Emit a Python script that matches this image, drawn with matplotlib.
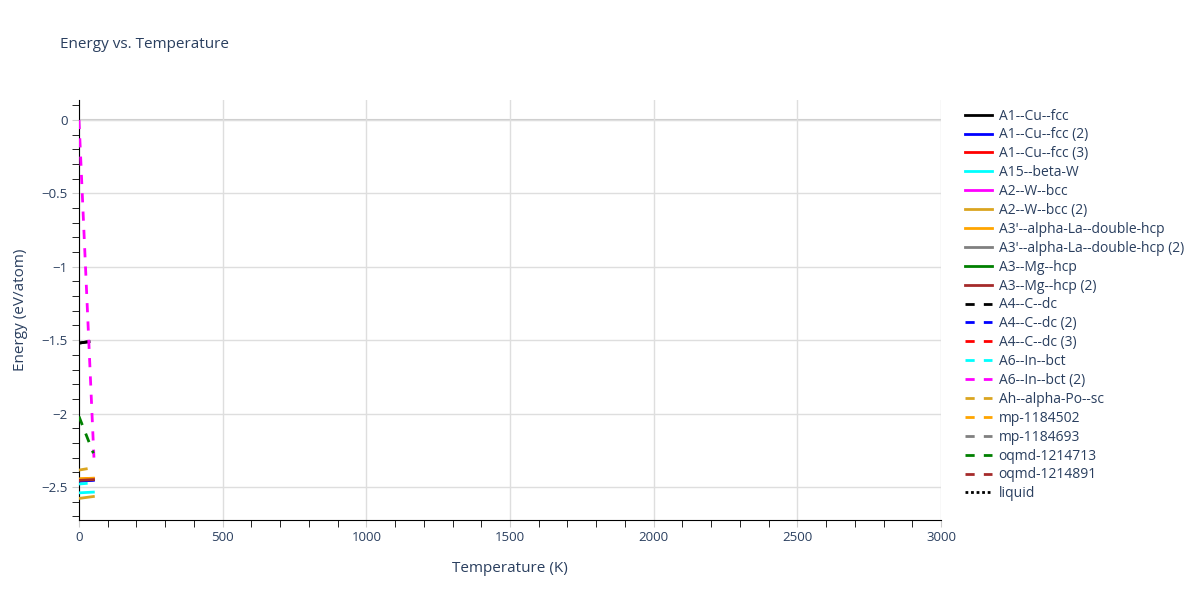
import numpy as np
import matplotlib
matplotlib.use('Agg')
import matplotlib.pyplot as plt
from matplotlib.ticker import MultipleLocator

plt.rcParams['font.family'] = ['Open Sans', 'DejaVu Sans']

# series: name, colour, style, temperatures (K), energies (eV/atom), visible
names = ['A1--Cu--fcc', 'A1--Cu--fcc (2)', 'A1--Cu--fcc (3)', 'A15--beta-W',
         'A2--W--bcc', 'A2--W--bcc (2)', "A3'--alpha-La--double-hcp",
         "A3'--alpha-La--double-hcp (2)", 'A3--Mg--hcp', 'A3--Mg--hcp (2)',
         'A4--C--dc', 'A4--C--dc (2)', 'A4--C--dc (3)', 'A6--In--bct',
         'A6--In--bct (2)', 'Ah--alpha-Po--sc', 'mp-1184502', 'mp-1184693',
         'oqmd-1214713', 'oqmd-1214891', 'liquid']
colors = ['black', 'blue', 'red', 'cyan', 'magenta', 'goldenrod', 'orange',
          'gray', 'green', 'brown', 'black', 'blue', 'red', 'cyan', 'magenta',
          'goldenrod', 'orange', 'gray', 'green', 'brown', 'black']
styles = ['solid'] * 10 + ['dash'] * 10 + ['dot']

temps = [[0, 35], [0, 50], [0, 50], [0, 50],
         [0, 50], [0, 50], [0, 50],
         [0, 50], [0, 50], [0, 50],
         [0, 35], [0, 50], [0, 50], [0, 30],
         [0, 52], [0, 30], [0, 50], [0, 50],
         [0, 50], [0, 50], [0, 50]]
energies = [[-1.52, -1.51], [-2.46, -2.455], [-2.45, -2.445], [-2.54, -2.535],
            [-2.45, -2.445], [-2.578, -2.565], [-2.445, -2.44],
            [-2.455, -2.45], [-2.455, -2.45], [-2.455, -2.45],
            [-1.52, -1.51], [-2.46, -2.455], [-2.45, -2.445], [-2.48, -2.475],
            [0.0, -2.3], [-2.385, -2.375], [-2.445, -2.44], [-2.455, -2.45],
            [-2.02, -2.27], [-2.455, -2.45], [-2.455, -2.45]]
shown = [True, True, True, True, False, True, True, False, False, True,
         False, False, False, True, True, True, False, False, True, False, False]

dashes = {'solid': '-', 'dash': (0, (3.3, 3.3)), 'dot': (0, (1, 1))}
txt = '#2a3f5f'

fig = plt.figure(figsize=(12, 6), dpi=100)
ax = fig.add_axes([79 / 1200, 80 / 600, 862 / 1200, 420 / 600])

for i in range(len(names)):
    ax.plot(temps[i], energies[i], color=colors[i], linestyle=dashes[styles[i]],
            lw=2, label=names[i], zorder=3 if shown[i] else 2)

ax.set_xlim(0, 3000)
ax.set_ylim(-2.725, 0.136)
ax.xaxis.set_major_locator(MultipleLocator(500))
ax.xaxis.set_minor_locator(MultipleLocator(100))
ax.yaxis.set_minor_locator(MultipleLocator(0.1))
ax.set_yticks([0, -0.5, -1, -1.5, -2, -2.5])
ax.set_yticklabels(['0', '−0.5', '−1', '−1.5', '−2', '−2.5'])
ax.grid(True, which='major', color='#dedede', lw=1, zorder=0)
ax.axhline(0, color='#cccccc', lw=1.5, zorder=1)
ax.tick_params(which='minor', direction='out', length=5, color='black')
ax.tick_params(which='major', direction='out', length=5, color='#cccccc',
               labelsize=9.5, labelcolor=txt, pad=3)
for s in ['top', 'right']:
    ax.spines[s].set_visible(False)
ax.spines['left'].set_color('black')
ax.spines['bottom'].set_color('black')

ax.set_xlabel('Temperature (K)', fontsize=11, color=txt, labelpad=12)
ax.set_ylabel('Energy (eV/atom)', fontsize=11, color=txt, labelpad=10)
fig.text(60 / 1200, 1 - 45 / 600, 'Energy vs. Temperature', fontsize=11,
         color=txt, va='center')

fig.legend(loc='upper left', bbox_to_anchor=(959 / 1200, 1 - 103 / 600),
           frameon=False, fontsize=10, labelcolor=txt, handlelength=2.0,
           handletextpad=0.45, labelspacing=0.28, borderaxespad=0)

fig.savefig('out.png', dpi=100)
